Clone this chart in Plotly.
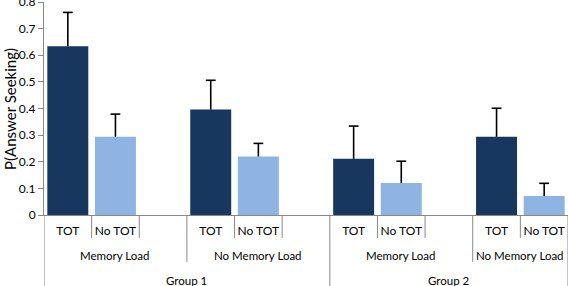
import plotly.graph_objects as go

groups = ["Group 1", "Group 2"]
loads = ["Memory Load", "No Memory Load"]
conditions = ["TOT", "No TOT"]
tot_means = [0.634, 0.396, 0.211, 0.294]
tot_err = [0.127, 0.110, 0.123, 0.107]
notot_means = [0.294, 0.220, 0.120, 0.071]
notot_err = [0.085, 0.049, 0.082, 0.048]
y_ticks = [0, 0.1, 0.2, 0.3, 0.4, 0.5, 0.6, 0.7, 0.8]

DARK = "#17375E"
LIGHT = "#8DB4E2"
GRID = "#888888"
FONT = "Lato"

# slot positions: each (group, load) cell uses 3 slots (TOT, No TOT, spacer), last spacer dropped
cells = [(g, l) for g in groups for l in loads]
tot_x = [3 * i for i in range(len(cells))]
notot_x = [3 * i + 1 for i in range(len(cells))]
n_slots = 3 * len(cells) - 1
xmin, xmax = -0.5, n_slots - 0.5

fig = go.Figure()
for xs, means, errs, color, name in [(tot_x, tot_means, tot_err, DARK, conditions[0]),
                                     (notot_x, notot_means, notot_err, LIGHT, conditions[1])]:
    fig.add_trace(go.Bar(
        x=xs, y=means, width=0.86, marker=dict(color=color, line=dict(width=0)),
        error_y=dict(type="data", array=errs, arrayminus=[0] * len(errs), symmetric=False,
                     color="black", thickness=1.6, width=0),
        name=name, showlegend=False))
    # top caps of the one-sided error bars
    fig.add_trace(go.Scatter(
        x=xs, y=[m + e for m, e in zip(means, errs)], mode="markers",
        marker=dict(symbol="line-ew", size=7, line=dict(color="black", width=1.6)),
        showlegend=False, hoverinfo="skip"))

# hierarchy boundaries
Y1, Y2, Y3 = -0.108, -0.22, -0.34
shapes = []
def vline(x, y_end):
    shapes.append(dict(type="line", xref="x", yref="paper", x0=x, x1=x, y0=0, y1=y_end,
                       line=dict(color=GRID, width=1)))

for k in range(n_slots + 1):
    b = xmin + k
    if k == 0 or k == n_slots or k == 6:
        vline(b, Y3)
    elif k % 3 == 0:
        vline(b, Y2)
    else:
        vline(b, Y1)

annotations = []
for i, (g, l) in enumerate(cells):
    lo = xmin + 3 * i
    hi = min(lo + 3, xmax)
    annotations.append(dict(x=(lo + hi) / 2, y=-0.188, xref="x", yref="paper", text=l,
                            showarrow=False, font=dict(size=11.5, color="black", family=FONT),
                            yanchor="middle"))
for gi, g in enumerate(groups):
    lo = xmin + 6 * gi
    hi = min(lo + 6, xmax)
    annotations.append(dict(x=(lo + hi) / 2, y=-0.306, xref="x", yref="paper", text=g,
                            showarrow=False, font=dict(size=11.5, color="black", family=FONT),
                            yanchor="middle"))
annotations.append(dict(x=-0.066, y=0.5, xref="paper", yref="paper", text="P(Answer Seeking)",
                        textangle=-90, showarrow=False, xanchor="center", yanchor="middle",
                        font=dict(size=15, family=FONT, color="black")))

fig.update_layout(
    width=568, height=286,
    margin=dict(l=44, r=0, t=2, b=71),
    plot_bgcolor="white", paper_bgcolor="white",
    barmode="overlay",
    font=dict(family=FONT, size=12, color="black"),
    shapes=shapes, annotations=annotations,
    xaxis=dict(range=[xmin, xmax], tickvals=tot_x + notot_x,
               ticktext=[conditions[0]] * len(tot_x) + [conditions[1]] * len(notot_x),
               showline=True, linecolor=GRID, linewidth=1, ticks="outside", ticklen=5,
               tickcolor="rgba(0,0,0,0)", showgrid=False, automargin=False,
               zeroline=False, tickfont=dict(size=12, family=FONT, color="black")),
    yaxis=dict(range=[0, 0.8001], tickvals=y_ticks, ticktext=[f"{v:g}" for v in y_ticks],
               showline=True, linecolor=GRID, linewidth=1, ticks="outside", ticklen=5,
               tickcolor=GRID, showgrid=False, zeroline=False, automargin=False,
               ticklabeloverflow="allow",
               tickfont=dict(size=12, family=FONT, color="black")),
)

fig.write_html("out.html", config={"displayModeBar": False},
               post_script="document.body.style.margin='0';document.body.style.overflow='hidden';")
